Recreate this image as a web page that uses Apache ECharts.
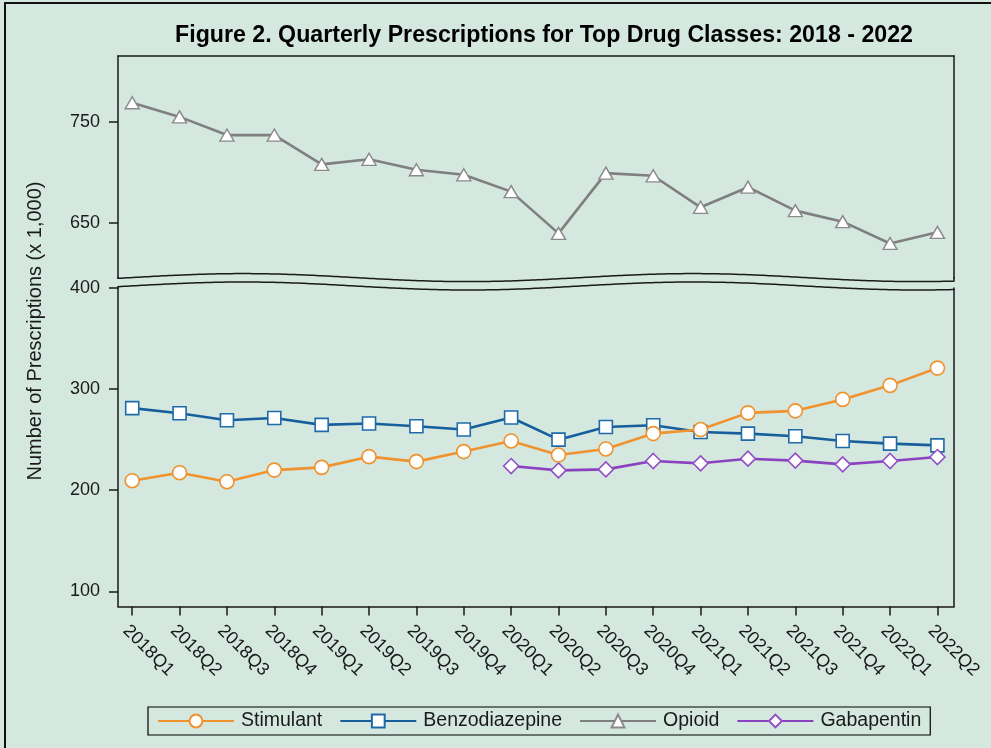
<!DOCTYPE html>
<html>
<head>
<meta charset="utf-8">
<script src="https://cdn.jsdelivr.net/npm/echarts@6/dist/echarts.min.js"></script>
<style>
  html, body { margin: 0; padding: 0; background: #d4e8df; }
  #chart { width: 991px; height: 748px; }
</style>
</head>
<body>
<div id="chart"></div>
<script>
// ---- Data ----
const quarters = ['2018Q1','2018Q2','2018Q3','2018Q4','2019Q1','2019Q2','2019Q3','2019Q4',
  '2020Q1','2020Q2','2020Q3','2020Q4','2021Q1','2021Q2','2021Q3','2021Q4','2022Q1','2022Q2'];
const stimulant = [209.4, 217.3, 208.4, 219.9, 222.6, 233.2, 228.3, 238.2, 248.7, 234.8, 240.8, 256.0, 260.0, 276.5, 278.5, 289.8, 303.7, 320.8];
const benzodiazepine = [281.2, 276.2, 269.2, 271.5, 264.6, 266.0, 263.3, 260.0, 271.9, 250.0, 262.6, 264.3, 257.6, 256.0, 253.4, 248.7, 246.1, 244.4];
const opioid = [769, 755, 737, 737, 708, 713, 702.7, 697.7, 681, 639.7, 699.3, 696.7, 665.5, 685.4, 662.2, 651.3, 629.7, 640.7];
const gabapentin = [null, null, null, null, null, null, null, null, 223.9, 219.6, 220.6, 228.9, 226.6, 231.2, 229.3, 225.6, 228.9, 232.8];
const upperTicks = [650, 750];
const lowerTicks = [100, 200, 300, 400];

const FONT = '"Liberation Sans", Arial, sans-serif';
const INK = '#1a1a1a';
const toPairs = arr => arr.map((v, i) => [i, v]);
const idx = quarters.map((q, i) => i);

// frame geometry
const L = 118, R = 954;
function wave(base) {
  const pts = [];
  for (let x = L; x <= R; x += 3) {
    pts.push([x, base - 4 * Math.cos(2 * Math.PI * (x - 243) / 450)]);
  }
  pts.push([R, base - 4 * Math.cos(2 * Math.PI * (R - 243) / 450)]);
  return pts;
}
const upperWave = wave(277.6);
upperWave.unshift([L, 277]);
upperWave.push([R, 277]);
const lowerWave = wave(286);
lowerWave.unshift([L, 289]);
lowerWave.push([R, 289]);

const lineOnly = { lineStyle: { color: INK, width: 1.5 } };
const noTicks = { axisTick: { show: false }, axisLabel: { show: false }, splitLine: { show: false } };

const chart = echarts.init(document.getElementById('chart'), null, { renderer: 'canvas' });
const common = { type: 'line', symbolKeepAspect: true, emphasis: { disabled: true } };

chart.setOption({
  backgroundColor: '#d4e8df',
  animation: false,
  title: {
    text: 'Figure 2. Quarterly Prescriptions for Top Drug Classes: 2018 - 2022',
    left: 539, top: 19, textAlign: 'center',
    textStyle: { fontFamily: FONT, fontSize: 23.2, fontWeight: 'bold', color: '#000' }
  },
  legend: {
    left: 148, top: 707,
    padding: [4, 9, 4, 9],
    itemGap: 17, itemWidth: 76, itemHeight: 16,
    borderColor: '#000', borderWidth: 1.2,
    backgroundColor: '#d4e8df',
    textStyle: { fontFamily: FONT, fontSize: 19.5, color: INK, padding: [0, 0, 0, 2] },
    data: ['Stimulant', 'Benzodiazepine', 'Opioid', 'Gabapentin']
  },
  grid: [
    { left: L, right: 991 - R, top: 56, height: 222 },
    { left: L, right: 991 - R, top: 288, height: 318.5 }
  ],
  xAxis: [
    Object.assign({ type: 'value', gridIndex: 0, min: -0.3, max: 17.35, position: 'bottom',
      axisLine: { show: false } }, noTicks),
    Object.assign({ type: 'value', gridIndex: 0, min: -0.3, max: 17.35, position: 'top',
      axisLine: Object.assign({ show: true, onZero: false }, lineOnly) }, noTicks),
    { type: 'value', gridIndex: 1, min: -0.3, max: 17.35, position: 'bottom',
      axisLine: Object.assign({ show: true, onZero: false }, lineOnly),
      axisTick: { show: true, customValues: idx, length: 9, lineStyle: { color: INK, width: 1.5 } },
      axisLabel: { show: true, customValues: idx, rotate: -45, margin: 15, verticalAlign: 'top',
        formatter: v => quarters[Math.round(v)] || '',
        fontFamily: FONT, fontSize: 18, color: INK },
      splitLine: { show: false } }
  ],
  yAxis: [
    { type: 'value', gridIndex: 0, min: 595.5, max: 815.3, position: 'left',
      axisLine: Object.assign({ show: true, onZero: false }, lineOnly),
      axisTick: { show: true, customValues: upperTicks, length: 9, lineStyle: { color: INK, width: 1.5 } },
      axisLabel: { show: true, customValues: upperTicks, margin: 18, fontFamily: FONT, fontSize: 18, color: INK },
      splitLine: { show: false } },
    Object.assign({ type: 'value', gridIndex: 0, min: 595.5, max: 815.3, position: 'right',
      axisLine: Object.assign({ show: true, onZero: false }, lineOnly) }, noTicks),
    { type: 'value', gridIndex: 1, min: 85, max: 400, position: 'left',
      axisLine: Object.assign({ show: true, onZero: false }, lineOnly),
      axisTick: { show: true, customValues: lowerTicks, length: 9, lineStyle: { color: INK, width: 1.5 } },
      axisLabel: { show: true, customValues: lowerTicks, margin: 18, fontFamily: FONT, fontSize: 18, color: INK },
      splitLine: { show: false } },
    Object.assign({ type: 'value', gridIndex: 1, min: 85, max: 400, position: 'right',
      axisLine: Object.assign({ show: true, onZero: false }, lineOnly) }, noTicks)
  ],
  series: [
    Object.assign({}, common, {
      name: 'Stimulant', xAxisIndex: 2, yAxisIndex: 2, z: 4,
      data: toPairs(stimulant), symbol: 'circle', symbolSize: 14,
      lineStyle: { color: '#f0922e', width: 2.6 },
      itemStyle: { color: '#ffffff', borderColor: '#f0922e', borderWidth: 1.6 }
    }),
    Object.assign({}, common, {
      name: 'Benzodiazepine', xAxisIndex: 2, yAxisIndex: 2, z: 3,
      data: toPairs(benzodiazepine), symbol: 'rect', symbolSize: 13,
      lineStyle: { color: '#165f9c', width: 2.6 },
      itemStyle: { color: '#ffffff', borderColor: '#1f6aa8', borderWidth: 1.6 }
    }),
    Object.assign({}, common, {
      name: 'Opioid', xAxisIndex: 0, yAxisIndex: 0, z: 3,
      data: toPairs(opioid), symbol: 'triangle', symbolSize: [14, 12],
      lineStyle: { color: '#7f7f7f', width: 2.6 },
      itemStyle: { color: '#ffffff', borderColor: '#8a8a8a', borderWidth: 1.4 }
    }),
    Object.assign({}, common, {
      name: 'Gabapentin', xAxisIndex: 2, yAxisIndex: 2, z: 3,
      data: toPairs(gabapentin), symbol: 'diamond', symbolSize: [15, 15],
      connectNulls: false,
      lineStyle: { color: '#8b42bf', width: 2.6 },
      itemStyle: { color: '#ffffff', borderColor: '#9350c4', borderWidth: 1.6 }
    })
  ],
  graphic: [
    { type: 'polyline', silent: true, z: 10, shape: { points: upperWave }, style: { stroke: INK, lineWidth: 1.5, fill: null } },
    { type: 'polyline', silent: true, z: 10, shape: { points: lowerWave }, style: { stroke: INK, lineWidth: 1.5, fill: null } },
    { type: 'text', silent: true, x: 35, y: 331, rotation: Math.PI / 2,
      style: { text: 'Number of Prescriptions (x 1,000)', fontFamily: FONT, fontSize: 20, fill: INK,
        textAlign: 'center', textVerticalAlign: 'middle' } },
    { type: 'rect', silent: true, z: 10, shape: { x: 5, y: 3, width: 1100, height: 900 },
      style: { stroke: '#111', lineWidth: 2, fill: null } }
  ]
});
</script>
</body>
</html>
